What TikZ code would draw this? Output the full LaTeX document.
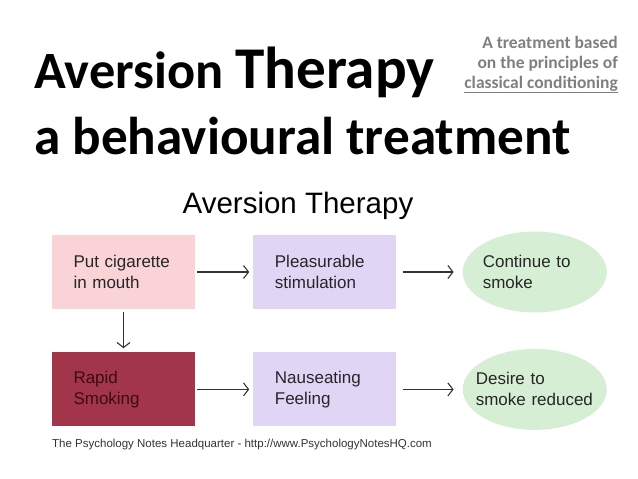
\documentclass[tikz,border=0pt]{standalone}
\usepackage{xcolor}
\usepackage{fontspec}
\setmainfont{Liberation Sans}
\newfontfamily\calibri{Carlito}
\usetikzlibrary{shapes.geometric, arrows.meta, positioning}

\definecolor{rosa}{HTML}{F9D3D6}
\definecolor{vinho}{HTML}{A3354A}
\definecolor{vinhotxt}{HTML}{3A0C14}
\definecolor{lilas}{HTML}{E1D5F6}
\definecolor{verde}{HTML}{D6EED4}
\definecolor{cinza}{HTML}{7F7F7F}

\begin{document}
\begin{tikzpicture}[
    x=1pt, y=-1pt,
    box/.style={rectangle, minimum width=143pt, minimum height=74pt, text width=100pt, inner xsep=21.5pt, align=left, font=\fontsize{17}{21}\selectfont, text=black!85},
    oval/.style={ellipse, fill=verde, minimum width=144pt, minimum height=81pt, inner sep=-10pt, align=left, font=\fontsize{17}{21}\selectfont, text=black!85},
    arrow/.style={-{Straight Barb[length=5pt,width=13pt]}, line width=1.1pt, black!80}
]
\useasboundingbox (0,0) rectangle (638,479);

% titles
\node[anchor=base west, inner sep=0pt] (titulo) at (34,88) {\calibri\bfseries\fontsize{52.4}{54}\selectfont Aversion \fontsize{59.2}{60}\selectfont Therapy};
\node[anchor=base west, inner sep=0pt] (subtitulo) at (34,154) {\calibri\bfseries\fontsize{53.2}{56}\selectfont a behavioural treatment};
\node[anchor=base east, inner sep=0pt, align=right, text=cinza, font=\calibri\bfseries\fontsize{17.5}{20}\selectfont] (nota) at (618,88) {A treatment based\\on the principles of\\\underline{classical conditioning}};

\node[anchor=base, inner sep=0pt] (diagrama) at (298,213) {\fontsize{29.5}{32}\selectfont Aversion Therapy};

% boxes
\node[box, fill=rosa] (cigarro) at (123.5,272) {Put cigarette\\in mouth};
\node[box, fill=lilas, right=58pt of cigarro] (prazer) {Pleasurable\\stimulation};
\node[oval, text width=104pt, right=66pt of prazer] (continua) {Continue to\\smoke};
\node[box, fill=vinho, text=vinhotxt, below=43pt of cigarro] (rapido) {Rapid\\Smoking};
\node[box, fill=lilas, right=58pt of rapido] (nausea) {Nauseating\\Feeling};
\node[oval, text width=118pt, right=66pt of nausea] (reduzido) {Desire to\\smoke reduced};

\draw[arrow, shorten <=2pt, shorten >=4pt] (cigarro) -- (prazer);
\draw[arrow, shorten <=6pt, shorten >=9pt] (prazer) -- (continua);
\draw[arrow, shorten <=3pt, shorten >=4pt] (cigarro) -- (rapido);
\draw[arrow, shorten <=2pt, shorten >=4pt] (rapido) -- (nausea);
\draw[arrow, shorten <=6pt, shorten >=9pt] (nausea) -- (reduzido);

\node[anchor=base west, inner sep=0pt, text=black!80] (fonte) at (52,447) {\fontsize{11.5}{13}\selectfont The Psychology Notes Headquarter - http://www.PsychologyNotesHQ.com};

\end{tikzpicture}
\end{document}
